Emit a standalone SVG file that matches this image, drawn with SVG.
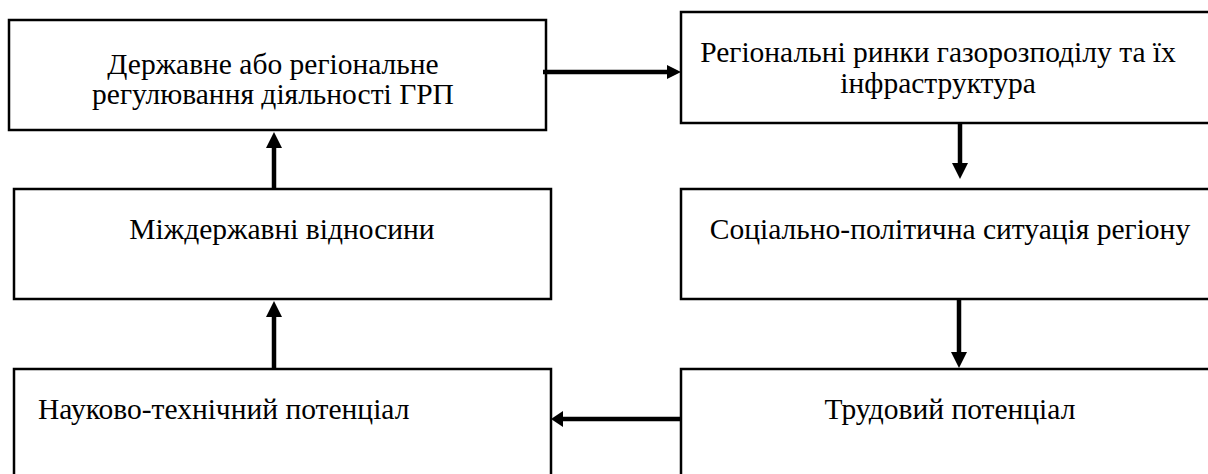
<svg xmlns="http://www.w3.org/2000/svg" width="1208" height="474" viewBox="0 0 1208 474">
<defs>
<style>
.box{fill:#fff;stroke:#000;stroke-width:2.5}
.t{font-family:"Liberation Serif","Times New Roman",serif;font-size:29.5px;fill:#000}
.c{stroke:#000;stroke-width:4.5;fill:none}
.ah{fill:#000}
</style>
</defs>
<rect width="1208" height="474" fill="#fff"/>
<g id="n1"><rect class="box" x="9" y="20" width="537" height="110"/><text class="t" x="273" y="74" text-anchor="middle">Державне або регіональне</text><text class="t" x="273" y="104" text-anchor="middle">регулювання діяльності ГРП</text></g>
<g id="n2"><rect class="box" x="681" y="12" width="540" height="111"/><text class="t" x="938" y="62" text-anchor="middle">Регіональні ринки газорозподілу та їх</text><text class="t" x="938" y="93" text-anchor="middle">інфраструктура</text></g>
<g id="n3"><rect class="box" x="14" y="189" width="537" height="110"/><text class="t" x="282" y="239" text-anchor="middle">Міждержавні відносини</text></g>
<g id="n4"><rect class="box" x="681" y="189" width="540" height="110"/><text class="t" x="950" y="239" text-anchor="middle">Соціально-політична ситуація регіону</text></g>
<g id="n5"><rect class="box" x="14" y="369" width="537" height="120"/><text class="t" x="38" y="419">Науково-технічний потенціал</text></g>
<g id="n6"><rect class="box" x="681" y="369" width="540" height="120"/><text class="t" x="950" y="419" text-anchor="middle">Трудовий потенціал</text></g>
<g id="connectors">
<line class="c" x1="543" y1="72" x2="667" y2="72"/><polygon class="ah" points="667,65 681,72 667,79"/>
<line class="c" x1="960" y1="123" x2="960" y2="164"/><polygon class="ah" points="952,163 968,163 960,179"/>
<line class="c" x1="959" y1="299" x2="959" y2="353"/><polygon class="ah" points="951,352 967,352 959,368"/>
<line class="c" x1="681" y1="419" x2="562" y2="419"/><polygon class="ah" points="563,411 563,427 551,419"/>
<line class="c" x1="274" y1="369" x2="274" y2="316"/><polygon class="ah" points="266,317 282,317 274,301"/>
<line class="c" x1="274" y1="189" x2="274" y2="147"/><polygon class="ah" points="266,148 282,148 274,132"/>
</g>
</svg>
